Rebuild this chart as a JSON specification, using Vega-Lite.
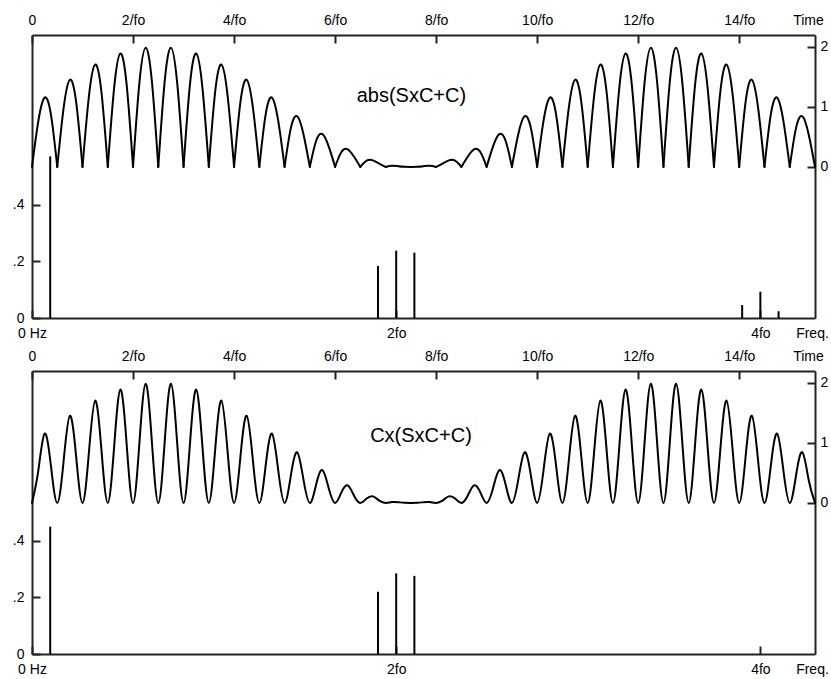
{
  "$schema": "https://vega.github.io/schema/vega-lite/v6.json",
  "background": "white",
  "padding": {"left": 12, "top": 13, "right": 3, "bottom": 5},
  "bounds": "flush",
  "spacing": 53,
  "config": {
    "view": {"stroke": null},
    "font": "Liberation Sans",
    "axis": {"domainColor": "#222", "domainWidth": 2, "tickColor": "#222", "tickWidth": 2, "tickSize": -8, "labelColor": "black", "labelFont": "Liberation Sans", "labelFontSize": 14, "grid": false, "labelFlush": false, "labelOverlap": false}
  },
  "datasets": {
    "wave1": [
      {"h":0,"t":0,"v":0},{"h":0,"t":0.125,"v":0.763},{"h":0,"t":0.25,"v":1.156},{"h":0,"t":0.375,"v":0.872},{"h":0,"t":0.5,"v":0},
      {"h":1,"t":0.5,"v":0},{"h":1,"t":0.625,"v":0.978},{"h":1,"t":0.75,"v":1.454},{"h":1,"t":0.875,"v":1.077},{"h":1,"t":1,"v":0},
      {"h":2,"t":1,"v":0},{"h":2,"t":1.125,"v":1.166},{"h":2,"t":1.25,"v":1.707},{"h":2,"t":1.375,"v":1.245},{"h":2,"t":1.5,"v":0},
      {"h":3,"t":1.5,"v":0},{"h":3,"t":1.625,"v":1.31},{"h":3,"t":1.75,"v":1.891},{"h":3,"t":1.875,"v":1.36},{"h":3,"t":2,"v":0},
      {"h":4,"t":2,"v":0},{"h":4,"t":2.125,"v":1.394},{"h":4,"t":2.25,"v":1.988},{"h":4,"t":2.375,"v":1.412},{"h":4,"t":2.5,"v":0},
      {"h":5,"t":2.5,"v":0},{"h":5,"t":2.625,"v":1.412},{"h":5,"t":2.75,"v":1.988},{"h":5,"t":2.875,"v":1.394},{"h":5,"t":3,"v":0},
      {"h":6,"t":3,"v":0},{"h":6,"t":3.125,"v":1.36},{"h":6,"t":3.25,"v":1.891},{"h":6,"t":3.375,"v":1.31},{"h":6,"t":3.5,"v":0},
      {"h":7,"t":3.5,"v":0},{"h":7,"t":3.625,"v":1.245},{"h":7,"t":3.75,"v":1.707},{"h":7,"t":3.875,"v":1.166},{"h":7,"t":4,"v":0},
      {"h":8,"t":4,"v":0},{"h":8,"t":4.125,"v":1.077},{"h":8,"t":4.25,"v":1.454},{"h":8,"t":4.375,"v":0.978},{"h":8,"t":4.5,"v":0},
      {"h":9,"t":4.5,"v":0},{"h":9,"t":4.625,"v":0.872},{"h":9,"t":4.75,"v":1.156},{"h":9,"t":4.875,"v":0.763},{"h":9,"t":5,"v":0},
      {"h":10,"t":5,"v":0},{"h":10,"t":5.125,"v":0.651},{"h":10,"t":5.25,"v":0.844},{"h":10,"t":5.375,"v":0.542},{"h":10,"t":5.5,"v":0},
      {"h":11,"t":5.5,"v":0},{"h":11,"t":5.625,"v":0.436},{"h":11,"t":5.75,"v":0.546},{"h":11,"t":5.875,"v":0.338},{"h":11,"t":6,"v":0},
      {"h":12,"t":6,"v":0},{"h":12,"t":6.125,"v":0.248},{"h":12,"t":6.25,"v":0.293},{"h":12,"t":6.375,"v":0.17},{"h":12,"t":6.5,"v":0},
      {"h":13,"t":6.5,"v":0},{"h":13,"t":6.625,"v":0.104},{"h":13,"t":6.75,"v":0.109},{"h":13,"t":6.875,"v":0.054},{"h":13,"t":7,"v":0},
      {"h":14,"t":7,"v":0},{"h":14,"t":7.125,"v":0.02},{"h":14,"t":7.25,"v":0.012},{"h":14,"t":7.375,"v":0.002},{"h":14,"t":7.5,"v":0},
      {"h":15,"t":7.5,"v":0},{"h":15,"t":7.625,"v":0.002},{"h":15,"t":7.75,"v":0.012},{"h":15,"t":7.875,"v":0.02},{"h":15,"t":8,"v":0},
      {"h":16,"t":8,"v":0},{"h":16,"t":8.125,"v":0.054},{"h":16,"t":8.25,"v":0.109},{"h":16,"t":8.375,"v":0.104},{"h":16,"t":8.5,"v":0},
      {"h":17,"t":8.5,"v":0},{"h":17,"t":8.625,"v":0.17},{"h":17,"t":8.75,"v":0.293},{"h":17,"t":8.875,"v":0.248},{"h":17,"t":9,"v":0},
      {"h":18,"t":9,"v":0},{"h":18,"t":9.125,"v":0.338},{"h":18,"t":9.25,"v":0.546},{"h":18,"t":9.375,"v":0.436},{"h":18,"t":9.5,"v":0},
      {"h":19,"t":9.5,"v":0},{"h":19,"t":9.625,"v":0.542},{"h":19,"t":9.75,"v":0.844},{"h":19,"t":9.875,"v":0.651},{"h":19,"t":10,"v":0},
      {"h":20,"t":10,"v":0},{"h":20,"t":10.125,"v":0.763},{"h":20,"t":10.25,"v":1.156},{"h":20,"t":10.375,"v":0.872},{"h":20,"t":10.5,"v":0},
      {"h":21,"t":10.5,"v":0},{"h":21,"t":10.625,"v":0.978},{"h":21,"t":10.75,"v":1.454},{"h":21,"t":10.875,"v":1.077},{"h":21,"t":11,"v":0},
      {"h":22,"t":11,"v":0},{"h":22,"t":11.125,"v":1.166},{"h":22,"t":11.25,"v":1.707},{"h":22,"t":11.375,"v":1.245},{"h":22,"t":11.5,"v":0},
      {"h":23,"t":11.5,"v":0},{"h":23,"t":11.625,"v":1.31},{"h":23,"t":11.75,"v":1.891},{"h":23,"t":11.875,"v":1.36},{"h":23,"t":12,"v":0},
      {"h":24,"t":12,"v":0},{"h":24,"t":12.125,"v":1.394},{"h":24,"t":12.25,"v":1.988},{"h":24,"t":12.375,"v":1.412},{"h":24,"t":12.5,"v":0},
      {"h":25,"t":12.5,"v":0},{"h":25,"t":12.625,"v":1.412},{"h":25,"t":12.75,"v":1.988},{"h":25,"t":12.875,"v":1.394},{"h":25,"t":13,"v":0},
      {"h":26,"t":13,"v":0},{"h":26,"t":13.125,"v":1.36},{"h":26,"t":13.25,"v":1.891},{"h":26,"t":13.375,"v":1.31},{"h":26,"t":13.5,"v":0},
      {"h":27,"t":13.5,"v":0},{"h":27,"t":13.625,"v":1.245},{"h":27,"t":13.75,"v":1.707},{"h":27,"t":13.875,"v":1.166},{"h":27,"t":14,"v":0},
      {"h":28,"t":14,"v":0},{"h":28,"t":14.125,"v":1.077},{"h":28,"t":14.25,"v":1.454},{"h":28,"t":14.375,"v":0.978},{"h":28,"t":14.5,"v":0},
      {"h":29,"t":14.5,"v":0},{"h":29,"t":14.625,"v":0.872},{"h":29,"t":14.75,"v":1.156},{"h":29,"t":14.875,"v":0.763},{"h":29,"t":15,"v":0},
      {"h":30,"t":15,"v":0},{"h":30,"t":15.125,"v":0.651},{"h":30,"t":15.25,"v":0.844},{"h":30,"t":15.375,"v":0.542},{"h":30,"t":15.5,"v":0}
    ],
    "wave2": [
      {"t":0,"v":0},{"t":0.125,"v":0.539},{"t":0.25,"v":1.156},{"t":0.375,"v":0.617},
      {"t":0.5,"v":0},{"t":0.625,"v":0.691},{"t":0.75,"v":1.454},{"t":0.875,"v":0.761},
      {"t":1,"v":0},{"t":1.125,"v":0.825},{"t":1.25,"v":1.707},{"t":1.375,"v":0.88},
      {"t":1.5,"v":0},{"t":1.625,"v":0.926},{"t":1.75,"v":1.891},{"t":1.875,"v":0.962},
      {"t":2,"v":0},{"t":2.125,"v":0.986},{"t":2.25,"v":1.988},{"t":2.375,"v":0.998},
      {"t":2.5,"v":0},{"t":2.625,"v":0.998},{"t":2.75,"v":1.988},{"t":2.875,"v":0.986},
      {"t":3,"v":0},{"t":3.125,"v":0.962},{"t":3.25,"v":1.891},{"t":3.375,"v":0.926},
      {"t":3.5,"v":0},{"t":3.625,"v":0.88},{"t":3.75,"v":1.707},{"t":3.875,"v":0.825},
      {"t":4,"v":0},{"t":4.125,"v":0.761},{"t":4.25,"v":1.454},{"t":4.375,"v":0.691},
      {"t":4.5,"v":0},{"t":4.625,"v":0.617},{"t":4.75,"v":1.156},{"t":4.875,"v":0.539},
      {"t":5,"v":0},{"t":5.125,"v":0.461},{"t":5.25,"v":0.844},{"t":5.375,"v":0.383},
      {"t":5.5,"v":0},{"t":5.625,"v":0.308},{"t":5.75,"v":0.546},{"t":5.875,"v":0.239},
      {"t":6,"v":0},{"t":6.125,"v":0.175},{"t":6.25,"v":0.293},{"t":6.375,"v":0.12},
      {"t":6.5,"v":0},{"t":6.625,"v":0.074},{"t":6.75,"v":0.109},{"t":6.875,"v":0.038},
      {"t":7,"v":0},{"t":7.125,"v":0.014},{"t":7.25,"v":0.012},{"t":7.375,"v":0.002},
      {"t":7.5,"v":0},{"t":7.625,"v":0.002},{"t":7.75,"v":0.012},{"t":7.875,"v":0.014},
      {"t":8,"v":0},{"t":8.125,"v":0.038},{"t":8.25,"v":0.109},{"t":8.375,"v":0.074},
      {"t":8.5,"v":0},{"t":8.625,"v":0.12},{"t":8.75,"v":0.293},{"t":8.875,"v":0.175},
      {"t":9,"v":0},{"t":9.125,"v":0.239},{"t":9.25,"v":0.546},{"t":9.375,"v":0.308},
      {"t":9.5,"v":0},{"t":9.625,"v":0.383},{"t":9.75,"v":0.844},{"t":9.875,"v":0.461},
      {"t":10,"v":0},{"t":10.125,"v":0.539},{"t":10.25,"v":1.156},{"t":10.375,"v":0.617},
      {"t":10.5,"v":0},{"t":10.625,"v":0.691},{"t":10.75,"v":1.454},{"t":10.875,"v":0.761},
      {"t":11,"v":0},{"t":11.125,"v":0.825},{"t":11.25,"v":1.707},{"t":11.375,"v":0.88},
      {"t":11.5,"v":0},{"t":11.625,"v":0.926},{"t":11.75,"v":1.891},{"t":11.875,"v":0.962},
      {"t":12,"v":0},{"t":12.125,"v":0.986},{"t":12.25,"v":1.988},{"t":12.375,"v":0.998},
      {"t":12.5,"v":0},{"t":12.625,"v":0.998},{"t":12.75,"v":1.988},{"t":12.875,"v":0.986},
      {"t":13,"v":0},{"t":13.125,"v":0.962},{"t":13.25,"v":1.891},{"t":13.375,"v":0.926},
      {"t":13.5,"v":0},{"t":13.625,"v":0.88},{"t":13.75,"v":1.707},{"t":13.875,"v":0.825},
      {"t":14,"v":0},{"t":14.125,"v":0.761},{"t":14.25,"v":1.454},{"t":14.375,"v":0.691},
      {"t":14.5,"v":0},{"t":14.625,"v":0.617},{"t":14.75,"v":1.156},{"t":14.875,"v":0.539},
      {"t":15,"v":0},{"t":15.125,"v":0.461},{"t":15.25,"v":0.844},{"t":15.375,"v":0.383},
      {"t":15.5,"v":0}
    ],
    "spec1": [
      {"f":0.1,"a":0.571},{"f":1.9,"a":0.184},{"f":2,"a":0.238},{"f":2.1,"a":0.231},
      {"f":3.9,"a":0.046},{"f":4,"a":0.093},{"f":4.1,"a":0.024}
    ],
    "spec2": [
      {"f":0.1,"a":0.45},{"f":1.9,"a":0.22},{"f":2,"a":0.285},{"f":2.1,"a":0.276}
    ],
    "lab1": [{"t":7.51,"v":1.18,"label":"abs(SxC+C)"}],
    "lab2": [{"t":7.7,"v":1.11,"label":"Cx(SxC+C)"}]
  },
  "vconcat": [
    {
      "width": 783,
      "height": 283,
      "resolve": {"scale": {"x": "independent", "y": "independent"}, "axis": {"x": "independent", "y": "independent"}},
      "layer": [
        {
          "encoding": {
            "x": {"field": "t", "type": "quantitative", "scale": {"domain": [0, 15.5], "nice": false, "zero": false},
              "axis": {"orient": "top", "title": null, "values": [0, 2, 4, 6, 8, 10, 12, 14, 15.5], "labelPadding": 16, "labelFontSize": 14,
                "labelExpr": "datum.value == 0 ? '0' : (datum.value > 15 ? 'Time' : datum.value + '/fo')",
                "labelOffset": {"condition": {"test": "datum.value > 15", "value": -7}, "value": 0},
                "tickOpacity": {"condition": {"test": "datum.value > 15", "value": 0}, "value": 1}}},
            "y": {"field": "v", "type": "quantitative", "scale": {"domain": [-2.52, 2.2], "nice": false, "zero": false},
              "axis": {"orient": "right", "title": null, "values": [0, 1, 2], "labelPadding": 13, "labelFontSize": 14}}
          },
          "layer": [
            {
              "data": {"name": "wave1"},
              "mark": {"type": "line", "interpolate": "natural", "color": "black", "strokeWidth": 2, "strokeCap": "round", "strokeJoin": "round"},
              "encoding": {"detail": {"field": "h", "type": "nominal"}}
            },
            {
              "data": {"name": "lab1"},
              "mark": {"type": "text", "font": "Liberation Sans", "fontSize": 20, "align": "center", "baseline": "middle", "color": "black"},
              "encoding": {"text": {"field": "label"}}
            }
          ]
        },
        {
          "data": {"name": "spec1"},
          "mark": {"type": "rule", "color": "black", "strokeWidth": 2},
          "encoding": {
            "x": {"field": "f", "type": "quantitative", "scale": {"domain": [0, 4.3], "nice": false, "zero": false},
              "axis": {"orient": "bottom", "title": null, "values": [0, 2, 4, 4.3], "labelPadding": 16, "labelFontSize": 14,
                "labelExpr": "datum.value == 0 ? '0 Hz' : (datum.value > 4.2 ? 'Freq.' : datum.value + 'fo')",
                "labelOffset": {"condition": {"test": "datum.value > 4.2", "value": -3}, "value": 0},
                "tickOpacity": {"condition": {"test": "datum.value > 4.2", "value": 0}, "value": 1}}},
            "y": {"field": "a", "type": "quantitative", "scale": {"domain": [0, 1], "nice": false},
              "axis": {"orient": "left", "title": null, "values": [0, 0.2, 0.4], "labelPadding": 16, "labelFontSize": 14,
                "labelExpr": "datum.value == 0 ? '0' : '.' + round(datum.value * 10)"}},
            "y2": {"datum": 0}
          }
        }
      ]
    },
    {
      "width": 783,
      "height": 283,
      "resolve": {"scale": {"x": "independent", "y": "independent"}, "axis": {"x": "independent", "y": "independent"}},
      "layer": [
        {
          "encoding": {
            "x": {"field": "t", "type": "quantitative", "scale": {"domain": [0, 15.5], "nice": false, "zero": false},
              "axis": {"orient": "top", "title": null, "values": [0, 2, 4, 6, 8, 10, 12, 14, 15.5], "labelPadding": 16, "labelFontSize": 14,
                "labelExpr": "datum.value == 0 ? '0' : (datum.value > 15 ? 'Time' : datum.value + '/fo')",
                "labelOffset": {"condition": {"test": "datum.value > 15", "value": -7}, "value": 0},
                "tickOpacity": {"condition": {"test": "datum.value > 15", "value": 0}, "value": 1}}},
            "y": {"field": "v", "type": "quantitative", "scale": {"domain": [-2.52, 2.2], "nice": false, "zero": false},
              "axis": {"orient": "right", "title": null, "values": [0, 1, 2], "labelPadding": 13, "labelFontSize": 14}}
          },
          "layer": [
            {
              "data": {"name": "wave2"},
              "mark": {"type": "line", "interpolate": "natural", "color": "black", "strokeWidth": 2, "strokeCap": "round", "strokeJoin": "round"}
            },
            {
              "data": {"name": "lab2"},
              "mark": {"type": "text", "font": "Liberation Sans", "fontSize": 20, "align": "center", "baseline": "middle", "color": "black"},
              "encoding": {"text": {"field": "label"}}
            }
          ]
        },
        {
          "data": {"name": "spec2"},
          "mark": {"type": "rule", "color": "black", "strokeWidth": 2},
          "encoding": {
            "x": {"field": "f", "type": "quantitative", "scale": {"domain": [0, 4.3], "nice": false, "zero": false},
              "axis": {"orient": "bottom", "title": null, "values": [0, 2, 4, 4.3], "labelPadding": 16, "labelFontSize": 14,
                "labelExpr": "datum.value == 0 ? '0 Hz' : (datum.value > 4.2 ? 'Freq.' : datum.value + 'fo')",
                "labelOffset": {"condition": {"test": "datum.value > 4.2", "value": -3}, "value": 0},
                "tickOpacity": {"condition": {"test": "datum.value > 4.2", "value": 0}, "value": 1}}},
            "y": {"field": "a", "type": "quantitative", "scale": {"domain": [0, 1], "nice": false},
              "axis": {"orient": "left", "title": null, "values": [0, 0.2, 0.4], "labelPadding": 16, "labelFontSize": 14,
                "labelExpr": "datum.value == 0 ? '0' : '.' + round(datum.value * 10)"}},
            "y2": {"datum": 0}
          }
        }
      ]
    }
  ]
}
